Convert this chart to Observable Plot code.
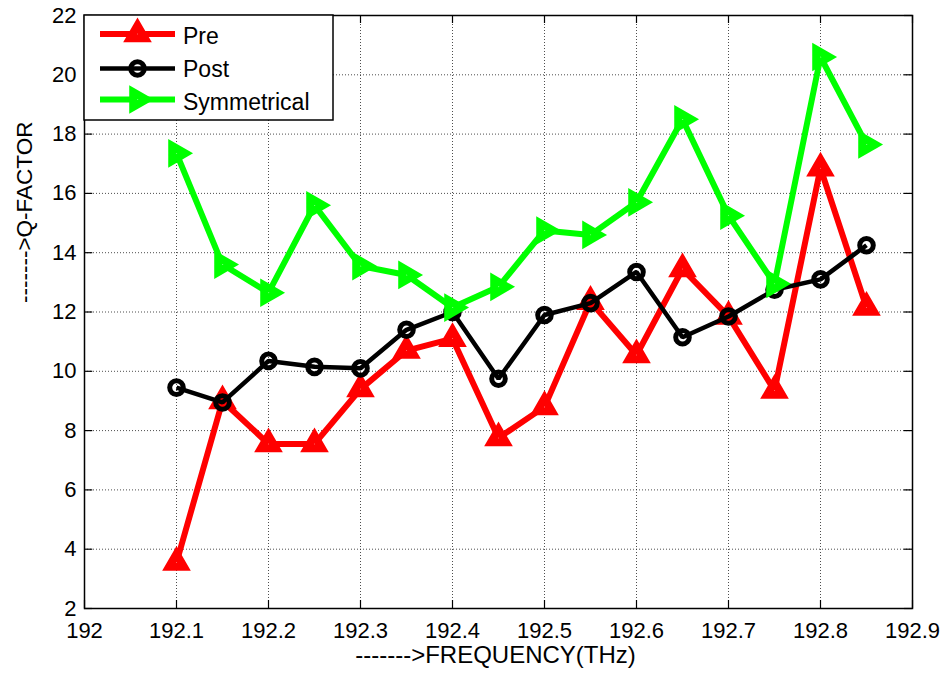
<!DOCTYPE html>
<html><head><meta charset="utf-8">
<script src="https://cdn.jsdelivr.net/npm/d3@7"></script>
<script src="https://cdn.jsdelivr.net/npm/@observablehq/plot@0.6"></script>
<style>
html,body{margin:0;padding:0;background:#fff;}
#wrap{position:relative;width:949px;height:677px;}
#wrap svg{position:absolute;left:0;top:0;}
</style></head><body><div id="wrap"></div>
<script>
const freq = [192.1, 192.15, 192.2, 192.25, 192.3, 192.35, 192.4, 192.45, 192.5, 192.55, 192.6, 192.65, 192.7, 192.75, 192.8, 192.85];
const pre  = [3.55, 9.0, 7.55, 7.55, 9.4, 10.7, 11.1, 7.75, 8.8, 12.35, 10.55, 13.45, 11.85, 9.35, 16.85, 12.15];
const post = [9.45, 8.95, 10.35, 10.15, 10.1, 11.4, 12.0, 9.75, 11.9, 12.3, 13.35, 11.15, 11.85, 12.75, 13.1, 14.25];
const sym  = [17.35, 13.6, 12.65, 15.6, 13.55, 13.25, 12.15, 12.85, 14.75, 14.6, 15.7, 18.5, 15.25, 12.95, 20.6, 17.65];
const xTicks = [192, 192.1, 192.2, 192.3, 192.4, 192.5, 192.6, 192.7, 192.8, 192.9];
const yTicks = [2, 4, 6, 8, 10, 12, 14, 16, 18, 20, 22];
const seriesNames = ["Pre", "Post", "Symmetrical"];
const seriesColors = ["#ff0000", "#000000", "#00ff00"];
const xLabel = ["------->FREQUENCY(THz)"];
const yLabel = ["------->Q-FACTOR"];

const rows = (vals) => freq.map((f, i) => ({f, v: vals[i]}));
const preRows = rows(pre), postRows = rows(post), symRows = rows(sym);
const FONT = "'Liberation Sans', Arial, Helvetica, sans-serif";
const grid = {stroke: "#222", strokeWidth: 1, strokeOpacity: 0.8, strokeDasharray: "1,2"};
const lineStyle = {strokeLinejoin: "miter", strokeLinecap: "butt"};
const TRI_R = 5.5, TRI_SW = 8;

const chart = Plot.plot({
  width: 949, height: 677,
  marginLeft: 84, marginRight: 37, marginTop: 15, marginBottom: 69,
  style: {fontFamily: FONT, fontSize: "22px", background: "white", color: "black", overflow: "visible"},
  x: {domain: [192, 192.9]},
  y: {domain: [2, 22]},
  marks: [
    Plot.ruleX(xTicks.slice(1, -1), grid),
    Plot.ruleY(yTicks.slice(1, -1), grid),
    Plot.ruleX(xTicks, {y1: 2, y2: 2.27, stroke: "black", strokeWidth: 1.2}),
    Plot.ruleX(xTicks, {y1: 22, y2: 21.73, stroke: "black", strokeWidth: 1.2}),
    Plot.ruleY(yTicks, {x1: 192, x2: 192.009, stroke: "black", strokeWidth: 1.2}),
    Plot.ruleY(yTicks, {x1: 192.9, x2: 192.891, stroke: "black", strokeWidth: 1.2}),
    Plot.axisX(xTicks, {tickSize: 0, tickPadding: 14, label: null, fontSize: 22, tickFormat: d => String(d)}),
    Plot.axisY(yTicks, {tickSize: 0, tickPadding: 8, label: null, fontSize: 22, tickFormat: d => String(d)}),
    Plot.line(preRows, {x: "f", y: "v", stroke: seriesColors[0], strokeWidth: 6, ...lineStyle}),
    Plot.dot(preRows, {x: "f", y: "v", symbol: "triangle", r: TRI_R, stroke: seriesColors[0], strokeWidth: TRI_SW, fill: "white"}),
    Plot.line(postRows, {x: "f", y: "v", stroke: seriesColors[1], strokeWidth: 4.5, ...lineStyle}),
    Plot.dot(postRows, {x: "f", y: "v", symbol: "circle", r: 6.8, stroke: seriesColors[1], strokeWidth: 5, fill: "none"}),
    Plot.line(symRows, {x: "f", y: "v", stroke: seriesColors[2], strokeWidth: 6, ...lineStyle}),
    Plot.dot(symRows, {x: "f", y: "v", symbol: "triangle", rotate: 90, r: TRI_R, stroke: seriesColors[2], strokeWidth: TRI_SW, fill: "white"}),
    Plot.frame({stroke: "black", strokeWidth: 1.5}),
    Plot.text(xLabel, {frameAnchor: "bottom", text: d => d, dx: -3, dy: 46.5, fontSize: 24, lineAnchor: "middle"}),
    Plot.text(yLabel, {frameAnchor: "left", text: d => d, rotate: -90, dx: -60, dy: -9, fontSize: 22.5, lineAnchor: "middle"})
  ]
});
const wrap = document.getElementById("wrap");
wrap.appendChild(chart);

// legend overlay (inside the plot area, top-left)
const leg = d3.create("svg").attr("width", 949).attr("height", 677)
  .style("pointer-events", "none").style("font-family", FONT);
leg.append("rect").attr("x", 84).attr("y", 15).attr("width", 249).attr("height", 105)
  .attr("fill", "white").attr("stroke", "black").attr("stroke-width", 1.5);
const lineY = [34, 68.5, 99.5];
const textY = [44, 77, 110];
const lw = [6, 4.5, 6];
seriesNames.forEach((name, i) => {
  const c = seriesColors[i];
  leg.append("line").attr("x1", 100).attr("x2", 175).attr("y1", lineY[i]).attr("y2", lineY[i])
    .attr("stroke", c).attr("stroke-width", lw[i]);
  if (i === 1) {
    leg.append("circle").attr("cx", 137.5).attr("cy", lineY[i]).attr("r", 6.8)
      .attr("fill", "none").attr("stroke", c).attr("stroke-width", 5);
  } else {
    leg.append("path").attr("d", d3.symbol(d3.symbolTriangle, Math.PI * TRI_R * TRI_R)())
      .attr("transform", `translate(137.5,${lineY[i]})${i === 2 ? " rotate(90)" : ""}`)
      .attr("fill", "white").attr("stroke", c).attr("stroke-width", TRI_SW);
  }
  leg.append("text").attr("x", 183).attr("y", textY[i]).attr("font-size", 23).attr("fill", "black").text(name);
});
wrap.appendChild(leg.node());
</script>
</body></html>
